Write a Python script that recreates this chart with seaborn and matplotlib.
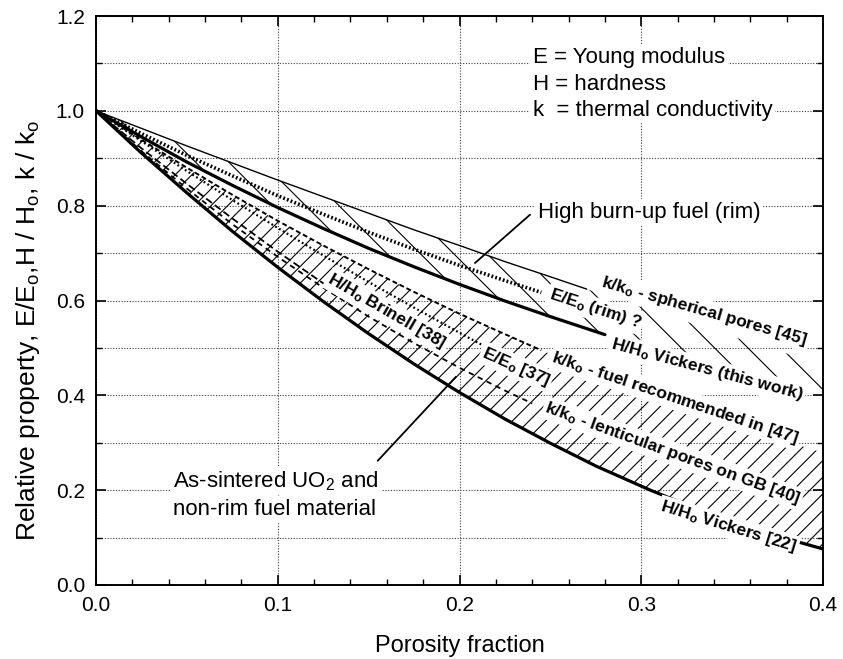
import numpy as np
import matplotlib
matplotlib.use("Agg")
import matplotlib.pyplot as plt
import seaborn as sns

# ---- data: relative property vs. porosity fraction ----
# k/k0 - spherical pores [45] (upper edge of the rim-fuel band)
p_sph = [0, .025, .05, .075, .1, .125, .15, .175, .2, .225, .25, .27, .3, .325, .35, .375, .4]
k_sph = [1.0, 0.963, 0.926, 0.890, 0.854, 0.819, 0.784, 0.749, 0.716, 0.682, 0.650, 0.624,
         0.586, 0.555, 0.524, 0.494, 0.465]

# H/H0 Vickers (this work) (lower edge of the rim-fuel band)
p_hv = [0, .025, .05, .075, .1, .125, .15, .175, .2, .225, .25, .28, .3, .325, .35, .375, .4]
h_hv = [1.0, 0.945, 0.892, 0.843, 0.796, 0.752, 0.710, 0.671, 0.634, 0.599, 0.566, 0.528,
        0.505, 0.477, 0.450, 0.425, 0.402]

# E/E0 (rim) ?
p_erim = [0, .025, .05, .075, .1, .125, .15, .175, .2, .225, .245]
e_rim = [1.0, 0.952, 0.906, 0.863, 0.821, 0.782, 0.744, 0.708, 0.674, 0.642, 0.617]

# k/k0 - fuel recommended in [47] (upper edge of the as-sintered band)
p_kfuel = [0, .025, .05, .075, .1, .125, .15, .175, .2, .225, .245, .275, .3, .325, .35, .375, .4]
k_fuel = [1.0, 0.939, 0.880, 0.823, 0.768, 0.716, 0.666, 0.618, 0.572, 0.529, 0.495, 0.448,
          0.410, 0.374, 0.341, 0.309, 0.279]

# E/E0 [37]
p_e37 = [0, .025, .05, .075, .1, .125, .15, .175, .2, .213]
e_37 = [1.0, 0.936, 0.873, 0.812, 0.753, 0.695, 0.639, 0.585, 0.532, 0.505]

# H/H0 Brinell [38]
p_hb = [0, .025, .05, .075, .1, .127]
h_brinell = [1.0, 0.921, 0.846, 0.773, 0.703, 0.631]

# k/k0 - lenticular pores on GB [40]
p_klen = [0, .025, .05, .075, .1, .125, .15, .175, .2, .225, .24]
k_len = [1.0, 0.915, 0.836, 0.761, 0.692, 0.627, 0.566, 0.510, 0.458, 0.410, 0.383]

# H/H0 Vickers [22] (lower edge of the as-sintered band)
p_h22 = [0, .025, .05, .075, .1, .125, .15, .175, .2, .225, .25, .275, .305, .325, .35, .375, .4]
h_v22 = [1.0, 0.911, 0.827, 0.746, 0.670, 0.598, 0.530, 0.466, 0.406, 0.350, 0.299, 0.251,
         0.200, 0.169, 0.134, 0.103, 0.076]

x_ticks = [0.0, 0.1, 0.2, 0.3, 0.4]
y_ticks = [0.0, 0.2, 0.4, 0.6, 0.8, 1.0, 1.2]

# ---- style ----
sns.set_theme(style="ticks")
plt.rcParams["font.family"] = ["Liberation Sans", "DejaVu Sans"]
plt.rcParams["mathtext.fontset"] = "custom"
plt.rcParams["mathtext.rm"] = "Liberation Sans"
plt.rcParams["mathtext.it"] = "Liberation Sans:italic"
plt.rcParams["mathtext.bf"] = "Liberation Sans:bold"
plt.rcParams["hatch.linewidth"] = 0.8
for key in ("text.color", "axes.labelcolor", "xtick.color", "ytick.color",
            "xtick.labelcolor", "ytick.labelcolor", "axes.edgecolor"):
    plt.rcParams[key] = "black"

fig = plt.figure(figsize=(8.43, 6.59), dpi=100)
ax = fig.add_axes([0.1139, 0.1123, 0.8624, 0.8634])


def upto(p, v, pmax):
    p = np.asarray(p)
    v = np.asarray(v)
    m = p <= pmax + 1e-9
    return p[m], v[m]


def band(p_top, v_top, p_bot, v_bot, hatch):
    xs = np.r_[p_top, p_bot[::-1]]
    ys = np.r_[v_top, v_bot[::-1]]
    ax.fill(xs, ys, facecolor="none", edgecolor="black", hatch=hatch, lw=0, zorder=1)


# hatched bands
band(np.array(p_sph), np.array(k_sph), np.array(p_hv), np.array(h_hv), "\\")
band(np.array(p_kfuel), np.array(k_fuel), np.array(p_h22), np.array(h_v22), "//")

# curves
x, y = upto(p_sph, k_sph, 0.27)
sns.lineplot(x=x, y=y, ax=ax, color="black", lw=1.0, zorder=3)
x, y = upto(p_erim, e_rim, 0.245)
sns.lineplot(x=x, y=y, ax=ax, color="black", lw=2.6, linestyle=(0, (0.5, 0.6)), zorder=3)
x, y = upto(p_hv, h_hv, 0.28)
sns.lineplot(x=x, y=y, ax=ax, color="black", lw=2.3, zorder=3)
x, y = upto(p_kfuel, k_fuel, 0.245)
sns.lineplot(x=x, y=y, ax=ax, color="black", lw=1.4, linestyle=(0, (2.5, 1.5)), zorder=3)
sns.lineplot(x=p_e37, y=e_37, ax=ax, color="black", lw=1.6, linestyle=(0, (0.8, 1.2)), zorder=3)
sns.lineplot(x=p_hb, y=h_brinell, ax=ax, color="black", lw=1.3, linestyle=(0, (4, 2)), zorder=3)
sns.lineplot(x=p_klen, y=k_len, ax=ax, color="black", lw=1.3, linestyle=(0, (3, 2.5)), zorder=3)
sns.lineplot(x=p_h22, y=h_v22, ax=ax, color="black", lw=2.3, zorder=3)

# curve labels
box = dict(boxstyle="square,pad=0.12", facecolor="white", edgecolor="none")
lab_kw = dict(ha="center", va="center", rotation_mode="anchor", fontsize=12.5,
              fontweight="bold", bbox=box, zorder=6, color="black")
ax.text(0.3345, 0.578, r"k/k$_\mathbf{o}$ - spherical pores [45]", rotation=-16, **lab_kw)
ax.text(0.2746, 0.582, r"E/E$_\mathbf{o}$ (rim) ?", rotation=-18, **lab_kw)
ax.text(0.3364, 0.4536, r"H/H$_\mathbf{o}$ Vickers (this work)", rotation=-15, **lab_kw)
ax.text(0.3186, 0.3935, r"k/k$_\mathbf{o}$ - fuel recommended in [47]", rotation=-18.5, **lab_kw)
ax.text(0.2311, 0.46, r"E/E$_\mathbf{o}$ [37]", rotation=-24, **lab_kw)
ax.text(0.3172, 0.2774, r"k/k$_\mathbf{o}$ - lenticular pores on GB [40]", rotation=-20, **lab_kw)
ax.text(0.348, 0.1224, r"H/H$_\mathbf{o}$ Vickers [22]", rotation=-17, **lab_kw)
ax.text(0.1601, 0.577, r"H/H$_\mathbf{o}$ Brinell [38]", rotation=-30, **lab_kw)

# symbol key
key_kw = dict(ha="left", va="baseline", fontsize=16, bbox=box, zorder=6, color="black")
ax.text(0.2404, 1.101, "E = Young modulus", **key_kw)
ax.text(0.2404, 1.045, "H = hardness", **key_kw)
ax.text(0.2404, 0.990, "k  = thermal conductivity", **key_kw)

# annotations with leader lines
ax.text(0.2432, 0.774, "High burn-up fuel (rim)", **key_kw)
sns.lineplot(x=[0.2388, 0.2085], y=[0.781, 0.679], ax=ax, color="black", lw=1.3,
             sort=False, zorder=4)
ax.text(0.0424, 0.2068, r"As-sintered UO$_2$ and", **key_kw)
ax.text(0.0424, 0.148, "non-rim fuel material", **key_kw)
sns.lineplot(x=[0.155, 0.198], y=[0.262, 0.439], ax=ax, color="black", lw=1.3,
             sort=False, zorder=4)

# axes, ticks, grid
ax.set_xlim(0, 0.4)
ax.set_ylim(0, 1.2)
ax.set_xticks(x_ticks)
ax.set_yticks(y_ticks)
ax.set_xticklabels([f"{v:.1f}" for v in x_ticks])
ax.set_yticklabels([f"{v:.1f}" for v in y_ticks])
ax.set_xticks(np.arange(0, 0.401, 0.02), minor=True)
ax.set_yticks(np.arange(0, 1.201, 0.1), minor=True)
ax.tick_params(which="major", direction="in", top=True, right=True, length=7, width=1.2,
               labelsize=15, pad=8, colors="black")
ax.tick_params(which="minor", direction="in", top=True, right=True, length=4, width=1.0)
grid_kw = dict(color="0.25", lw=0.8, linestyle=(0, (1, 1.5)))
ax.grid(which="major", axis="x", **grid_kw)
ax.grid(which="both", axis="y", **grid_kw)
ax.set_axisbelow(True)
for s in ax.spines.values():
    s.set_linewidth(1.4)
    s.set_color("black")

ax.set_xlabel("Porosity fraction", fontsize=17, labelpad=14)
ax.set_ylabel(r"Relative property, E/E$_\mathrm{o}$,H / H$_\mathrm{o}$, k / k$_\mathrm{o}$",
              fontsize=19)
ax.yaxis.set_label_coords(-0.074, 0.448)

fig.savefig("out.png", dpi=100)
